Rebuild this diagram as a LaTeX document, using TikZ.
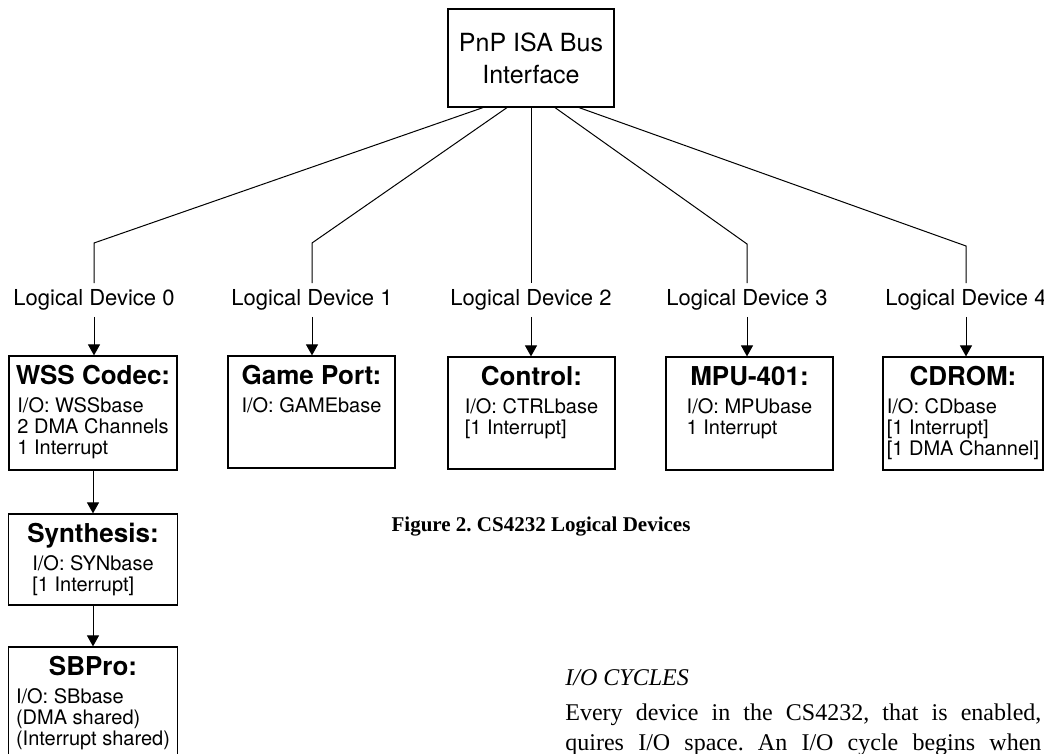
\documentclass[tikz,border=0pt]{standalone}
\usepackage{fontspec}
\setmainfont{TeX Gyre Heros}
\newfontfamily\serifface{Liberation Serif}
\usetikzlibrary{positioning, arrows.meta}
\frenchspacing

% box text: width, height, title, lines
\newcommand{\devtext}[4]{%
  \parbox[c][#2][t]{#1}{\offinterlineskip\centering
    \rule[-3pt]{0pt}{17pt}{\fontsize{13}{13}\selectfont\bfseries #3}\par
    \vspace{4pt}
    {\fontsize{10}{10}\selectfont\begin{tabular}[t]{@{}l@{}}#4\end{tabular}}\par}}

\begin{document}
\begin{tikzpicture}[x=0.5pt, y=-0.5pt,
	box/.style={draw, line width=0.6pt, inner sep=0pt},
	lbl/.style={font=\fontsize{11}{13}\selectfont, inner sep=3pt},
	line/.style={line width=0.5pt},
	arr/.style={line width=0.5pt, -{Triangle[length=5.5pt,width=6pt]}}]

	\useasboundingbox (0,0) rectangle (1044,754);

	% nodes - bus and logical devices %
	\node[box, minimum width=83pt, minimum height=49pt, align=center,
		font=\fontsize{12.5}{16}\selectfont] (bus) at (531,58) {PnP ISA Bus\\Interface};

	\node[lbl] (ld0) at (94,300) {Logical Device 0};
	\node[lbl] (ld1) at (312,300) {Logical Device 1};
	\node[lbl] (ld2) at (531,300) {Logical Device 2};
	\node[lbl] (ld3) at (747,300) {Logical Device 3};
	\node[lbl] (ld4) at (966,300) {Logical Device 4};

	\node[box] (wss) at (93,413) {\devtext{84pt}{57pt}{WSS Codec:}{I/O: WSSbase\\ 2 DMA Channels\\ 1 Interrupt}};
	\node[box] (game) at (311.5,412) {\devtext{83.5pt}{56pt}{Game Port:}{I/O: GAMEbase}};
	\node[box] (ctrl) at (531.5,413) {\devtext{83.5pt}{56pt}{Control:}{I/O: CTRLbase\\ {[1 Interrupt]}}};
	\node[box] (mpu) at (749.5,413.5) {\devtext{83.5pt}{56.5pt}{MPU-401:}{I/O: MPUbase\\ 1 Interrupt}};
	\node[box] (cdrom) at (963,413.5) {\devtext{80pt}{56.5pt}{CDROM:}{I/O: CDbase\\ {[1 Interrupt]}\\ {[1 DMA Channel]}}};
	\node[box] (synth) at (93,559.5) {\devtext{84.5pt}{45.5pt}{Synthesis:}{I/O: SYNbase\\ {[1 Interrupt]}}};
	\node[box] (sbpro) at (93,703) {\devtext{84.5pt}{56pt}{SBPro:}{I/O: SBbase\\ (DMA shared)\\ (Interrupt shared)}};

	% nodes - text %
	\node[font=\serifface\bfseries\fontsize{10.5}{12}\selectfont] (cap) at (541,527) {Figure 2. CS4232 Logical Devices};
	\node[anchor=base west, inner sep=0pt, font=\serifface\itshape\fontsize{12}{14}\selectfont] (iohead) at (565,685) {I/O CYCLES};
	\node[anchor=base west, inner sep=0pt, font=\serifface\fontsize{12}{15}\selectfont] (para1) at (565,720) {\makebox[238pt][s]{Every device in the CS4232, that is enabled,}};
	\node[anchor=base west, inner sep=0pt, font=\serifface\fontsize{12}{15}\selectfont] (para2) at (565,750) {\makebox[238pt][s]{quires I/O space. An I/O cycle begins when}};

	% edges %
	\coordinate (j0) at (94,243);
	\coordinate (j1) at (312,243);
	\coordinate (j3) at (747,244);
	\coordinate (j4) at (966,246);

	\draw[line] ([xshift=-24pt]bus.south) -- (j0) -- (ld0);
	\draw[line] ([xshift=-12pt]bus.south) -- (j1) -- (ld1);
	\draw[line] (bus.south) -- (ld2);
	\draw[line] ([xshift=12pt]bus.south) -- (j3) -- (ld3);
	\draw[line] ([xshift=24pt]bus.south) -- (j4) -- (ld4);

	\draw[arr] (ld0) -- (ld0 |- wss.north);
	\draw[arr] (ld1) -- (ld1 |- game.north);
	\draw[arr] (ld2) -- (ld2 |- ctrl.north);
	\draw[arr] (ld3) -- (ld3 |- mpu.north);
	\draw[arr] (ld4) -- (ld4 |- cdrom.north);
	\draw[arr] (wss) -- (synth);
	\draw[arr] (synth) -- (sbpro);

\end{tikzpicture}
\end{document}
